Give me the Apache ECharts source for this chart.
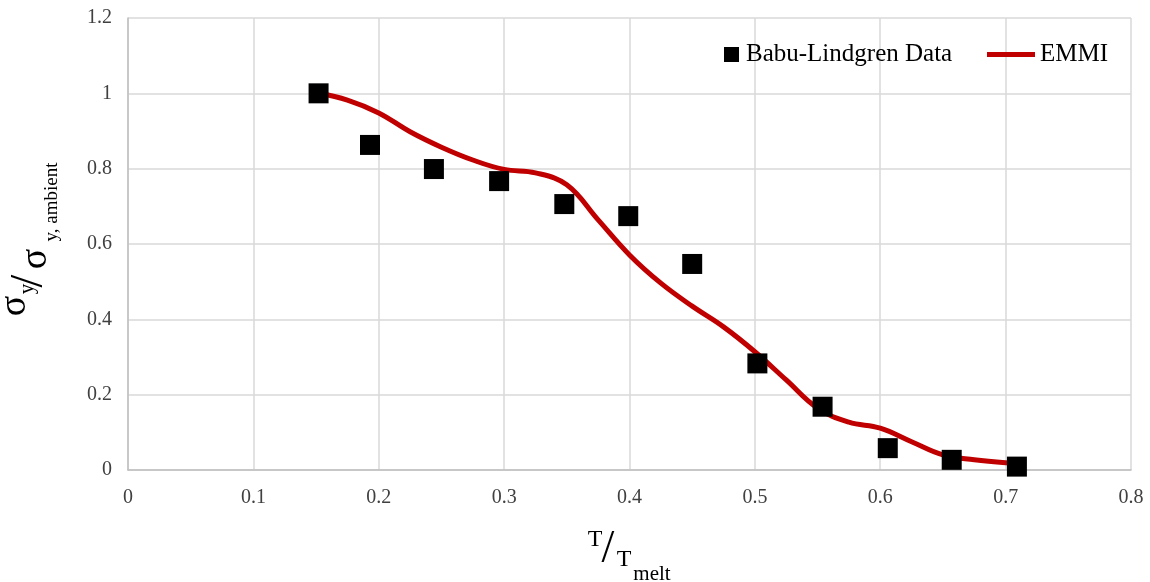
<!DOCTYPE html>
<html><head><meta charset="utf-8">
<script src="https://cdn.jsdelivr.net/npm/echarts@6/dist/echarts.min.js"></script>
<style>html,body{margin:0;padding:0;background:#fff}#c{width:1150px;height:582px}</style>
</head><body><div id="c"></div>
<script>
const dataX = [0.152, 0.193, 0.244, 0.296, 0.348, 0.399, 0.450, 0.502, 0.554, 0.606, 0.657, 0.709];
const dataY = [1.000, 0.863, 0.799, 0.767, 0.706, 0.674, 0.547, 0.283, 0.168, 0.058, 0.027, 0.009];
const emmiX = [0.152, 0.175, 0.2, 0.225, 0.25, 0.275, 0.3, 0.325, 0.35, 0.375, 0.4, 0.425, 0.45, 0.475, 0.5, 0.525, 0.55, 0.575, 0.6, 0.625, 0.65, 0.675, 0.7, 0.71];
const emmiY = [1.000, 0.982, 0.948, 0.898, 0.857, 0.823, 0.798, 0.789, 0.757, 0.664, 0.571, 0.496, 0.435, 0.380, 0.314, 0.239, 0.164, 0.127, 0.111, 0.075, 0.040, 0.027, 0.019, 0.018];
const xTicks = [0, 0.1, 0.2, 0.3, 0.4, 0.5, 0.6, 0.7, 0.8];
const yTicks = [0, 0.2, 0.4, 0.6, 0.8, 1, 1.2];

const chart = echarts.init(document.getElementById('c'));
const font = 'Liberation Serif';
const R = Math.PI / 2;
function txt(text, x, y, size, rot) {
  return {type: 'text', x: x, y: y, rotation: rot || 0, silent: true,
    style: {text: text, fontFamily: font, fontSize: size, fill: '#000', align: 'center', verticalAlign: 'middle'}};
}
chart.setOption({
  animation: false,
  grid: {left: 128, right: 19, top: 18, bottom: 112},
  xAxis: {
    type: 'value', min: 0, max: 0.8, interval: 0.1,
    axisLine: {show: true, lineStyle: {color: '#bfbfbf', width: 1.5}},
    axisTick: {show: false},
    splitLine: {show: true, lineStyle: {color: '#d9d9d9', width: 1.5}},
    axisLabel: {fontFamily: font, fontSize: 20, color: '#404040', margin: 18,
      formatter: v => { const t = xTicks.find(k => Math.abs(k - v) < 1e-9); return t === undefined ? '' : String(t); }}
  },
  yAxis: {
    type: 'value', min: 0, max: 1.2, interval: 0.2,
    axisLine: {show: true, lineStyle: {color: '#bfbfbf', width: 1.5}},
    axisTick: {show: false},
    splitLine: {show: true, lineStyle: {color: '#d9d9d9', width: 1.5}},
    axisLabel: {fontFamily: font, fontSize: 20, color: '#404040', margin: 16,
      formatter: v => { const t = yTicks.find(k => Math.abs(k - v) < 1e-9); return t === undefined ? '' : String(t); }}
  },
  graphic: [
    // x axis title: T / T_melt
    txt('T', 595, 540, 24),
    txt('/', 608, 550, 46),
    txt('T', 624, 560, 24),
    txt('melt', 652, 574, 21),
    // y axis title: σ_y / σ_y, ambient (rotated)
    txt('σ', 15, 306, 38, R),
    txt('y', 27, 289, 21, R),
    txt('/', 30, 281, 46, R),
    txt('σ', 36, 259, 38, R),
    txt('y, ambient', 52, 202, 19, R)
  ],
  legend: [
    {data: [{name: 'Babu-Lindgren Data', icon: 'rect'}], left: 724, top: 42, padding: 0, itemWidth: 15, itemHeight: 15,
      textStyle: {fontFamily: font, fontSize: 25, color: '#000', padding: [0,0,0,2]}},
    {data: [{name: 'EMMI', icon: 'rect'}], left: 987, top: 42, padding: 0, itemWidth: 48, itemHeight: 5,
      textStyle: {fontFamily: font, fontSize: 25, color: '#000'}}
  ],
  series: [
    {name: 'EMMI', type: 'line', data: emmiX.map((x, i) => [x, emmiY[i]]), smooth: 0.4, showSymbol: false, symbol: 'none',
      lineStyle: {color: '#c00000', width: 5}, itemStyle: {color: '#c00000'}, z: 2},
    {name: 'Babu-Lindgren Data', type: 'scatter', data: dataX.map((x, i) => [x, dataY[i]]), symbol: 'rect', symbolSize: 20,
      itemStyle: {color: '#000', opacity: 1}, z: 3}
  ]
});
</script></body></html>
